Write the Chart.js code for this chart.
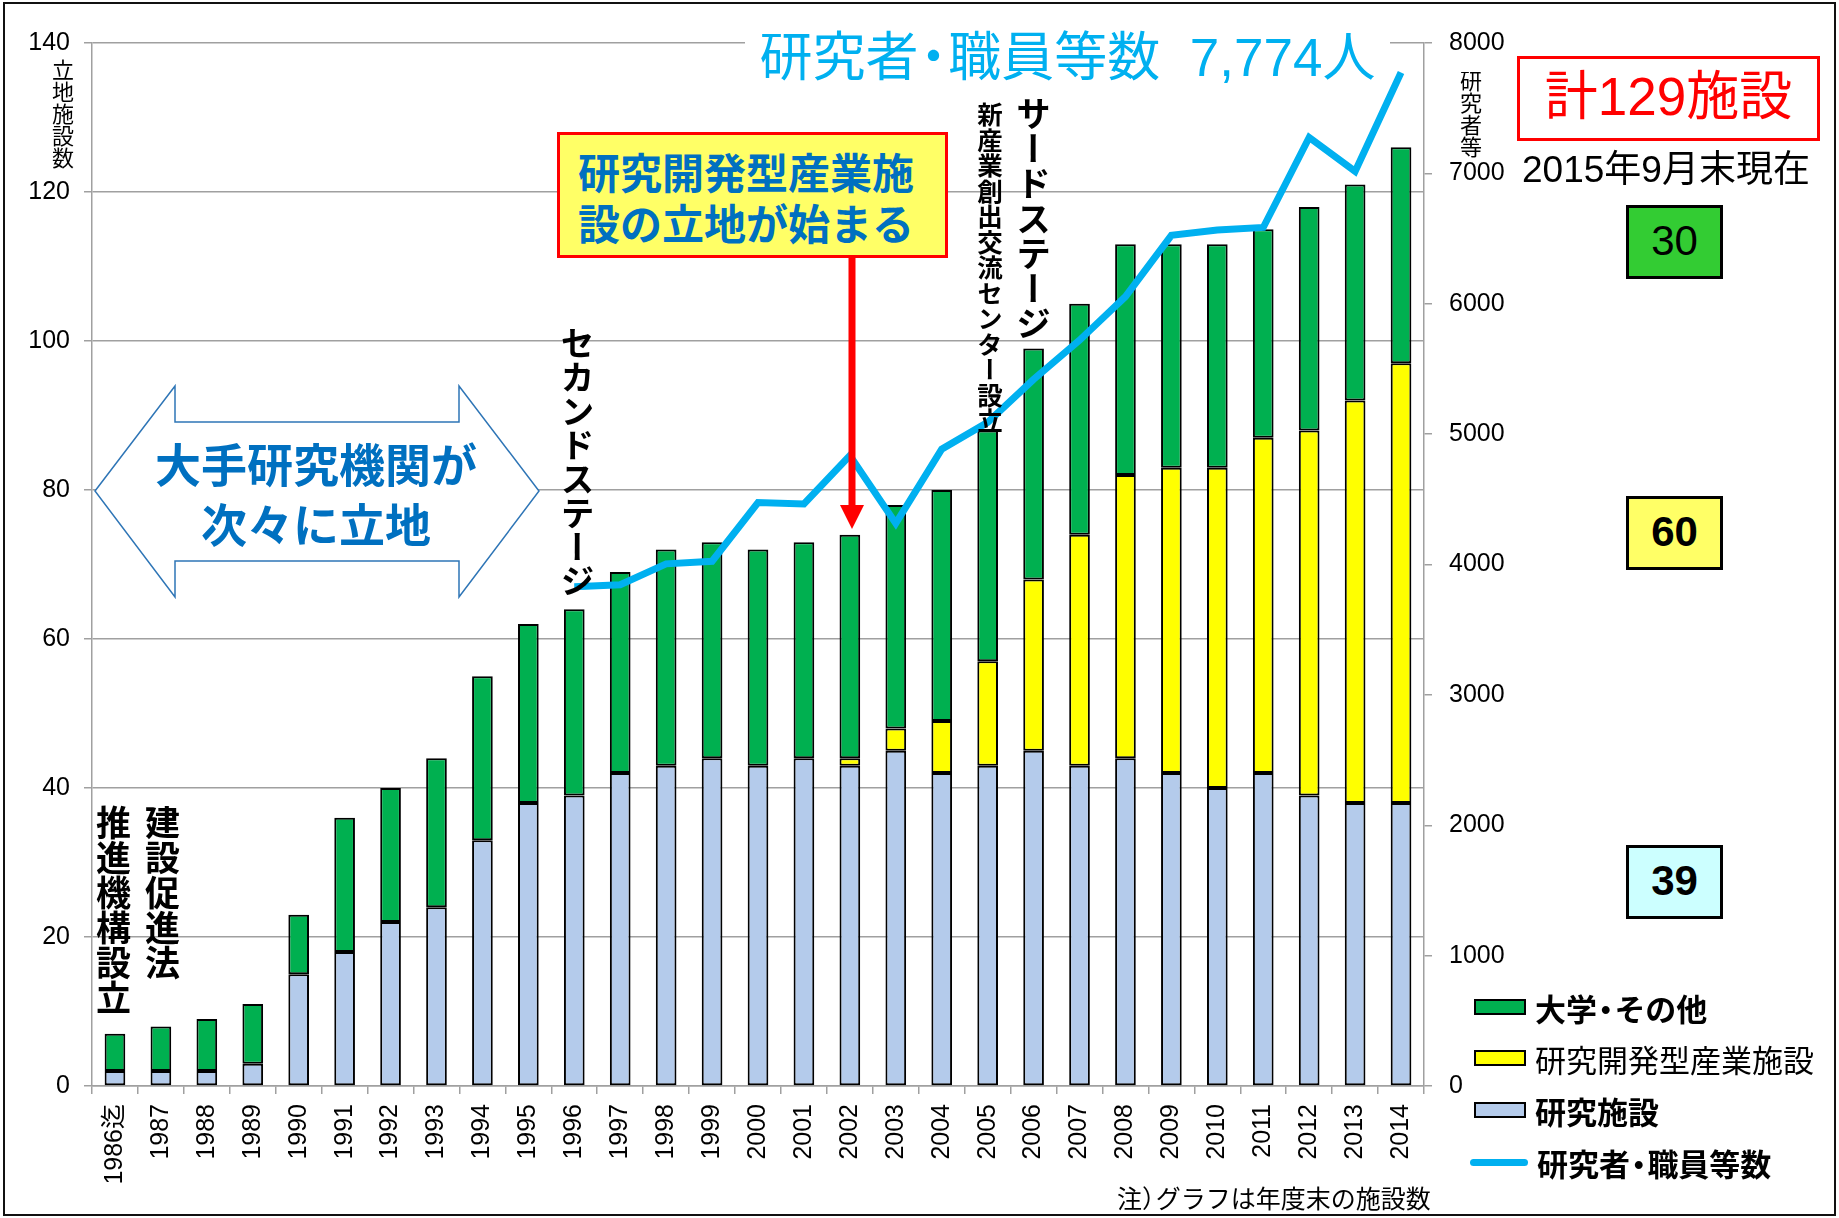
<!DOCTYPE html>
<html lang="ja">
<head>
<meta charset="utf-8">
<title>研究施設等の立地状況</title>
<script src="https://cdn.jsdelivr.net/npm/chart.js@4.4.1/dist/chart.umd.min.js"></script>
<style>
    html, body { margin: 0; padding: 0; background: #fff; overflow: hidden; }
    #wrap { position: relative; width: 1839px; height: 1218px; }
    #chart { position: absolute; left: 0; top: 0; }
    .note { position: absolute; font-family: "Liberation Sans", "Noto Sans CJK JP", sans-serif; color: #000; white-space: nowrap; z-index: 3; }
    .vert { writing-mode: vertical-rl; line-height: 1; font-family: "Noto Sans CJK JP", sans-serif; }
    .box { box-sizing: border-box; border: 3.5px solid #000; text-align: center; }
    .dot { margin: 0 -0.22em; }
    .paren { margin-right: -0.45em; }
    #arrows { position: absolute; left: 0; top: 0; z-index: 2; }
    #frame { position: absolute; left: 3px; top: 2px; width: 1829px; height: 1210px; border: 2px solid #111; z-index: 4; pointer-events: none; }
    .legend-row { position: absolute; left: 1470px; height: 40px; display: flex; align-items: center; z-index: 3; }
    .legend-patch { width: 52px; height: 16px; box-sizing: border-box; border: 2px solid #000; margin-left: 4px; }
    .legend-line { width: 58px; height: 7px; border-radius: 4px; }
    .legend-text { font-family: "Noto Sans CJK JP", sans-serif; font-size: 31px; margin-left: 9px; color: #000; }
</style>
</head>
<body>
<div id="wrap">
    <canvas id="chart" width="1839" height="1218"></canvas>

    <svg id="arrows" width="1839" height="1218">
        <!-- double arrow -->
        <polygon points="95,491 175,386 175,422 459,422 459,386 539,491 459,597 459,561 175,561 175,597"
                 fill="#fff" stroke="#2E75B6" stroke-width="1.5"/>
        <!-- red arrow from callout -->
        <line x1="852" y1="256" x2="852" y2="507" stroke="#FF0000" stroke-width="7"/>
        <polygon points="840,505 864,505 852,529" fill="#FF0000"/>
    </svg>

    <!-- title over the top gridline -->
    <div class="note" style="left:745px; top:28px; width:645px; height:60px; line-height:60px; background:#fff; text-align:center; font-size:53px; color:#00B0F0;">研究者<span class="dot">・</span>職員等数&nbsp;&nbsp;7,774人</div>

    <div class="note box" style="left:1517px; top:56px; width:303px; height:85px; line-height:76px; border-color:#FF0000; font-size:53px; color:#FF0000;">計129施設</div>
    <div class="note" style="left:1516px; top:148px; width:300px; text-align:center; font-size:37px; line-height:44px;">2015年9月末現在</div>

    <div class="note box" style="left:1626px; top:205px; width:97px; height:74px; line-height:66px; background:#33CC33; font-size:42px;">30</div>
    <div class="note box" style="left:1626px; top:496px; width:97px; height:74px; line-height:66px; background:#FFFF66; font-size:42px; font-weight:bold;">60</div>
    <div class="note box" style="left:1626px; top:845px; width:97px; height:74px; line-height:66px; background:#CCFFFF; font-size:42px; font-weight:bold;">39</div>

    <!-- callout -->
    <div class="note box" style="left:557px; top:132px; width:391px; height:126px; border-color:#FF0000; background:#FFFF66; text-align:left; padding:10px 0 0 18px; font-family:'Noto Sans CJK JP', sans-serif; font-size:42px; line-height:51px; font-weight:bold; color:#0070C0;">研究開発型産業施<br>設の立地が始まる</div>

    <div class="note" style="left:116px; top:432px; width:400px; text-align:center; font-family:'Noto Sans CJK JP', sans-serif; font-size:46px; line-height:60px; font-weight:bold; color:#0070C0;">大手研究機関が<br>次々に立地</div>

    <!-- vertical notes -->
    <div class="note vert" style="left:96px; top:805px; font-size:35px; font-weight:bold;">推進機構設立</div>
    <div class="note vert" style="left:145px; top:805px; font-size:35px; font-weight:bold;">建設促進法</div>
    <div class="note vert" style="left:560px; top:326px; font-size:34px; font-weight:bold;">セカンドステージ</div>
    <div class="note vert" style="left:1016px; top:96px; font-size:35px; font-weight:bold;">サードステージ</div>
    <div class="note vert" style="left:977px; top:102px; font-size:25.5px; font-weight:bold;">新産業創出交流センター設立</div>

    <!-- axis titles -->
    <div class="note vert" style="left:52px; top:59px; font-size:22px;">立地施設数</div>
    <div class="note vert" style="left:1460px; top:70px; font-size:22px;">研究者等</div>

    <div class="note" style="left:1117px; top:1183px; font-family:'Noto Sans CJK JP', sans-serif; font-size:25px; line-height:28px;">注<span class="paren">）</span>グラフは年度末の施設数</div>

    <div id="legend"></div>
    <div id="frame"></div>
</div>

<script>
// Categories (fiscal year end)
const years = ['1986迄', '1987', '1988', '1989', '1990', '1991', '1992', '1993', '1994', '1995',
    '1996', '1997', '1998', '1999', '2000', '2001', '2002', '2003', '2004', '2005',
    '2006', '2007', '2008', '2009', '2010', '2011', '2012', '2013', '2014'];

// 研究施設
const researchFacilities = [2, 2, 2, 3, 15, 18, 22, 24, 33, 38,
    39, 42, 43, 44, 43, 44, 43, 45, 42, 43,
    45, 43, 44, 42, 40, 42, 39, 38, 38];

// 研究開発型産業施設
const industryFacilities = [null, null, null, null, null, null, null, null, null, null,
    null, null, null, null, null, null, 1, 3, 7, 14,
    23, 31, 38, 41, 43, 45, 49, 54, 59];

// 大学・その他
const universityOther = [5, 6, 7, 8, 8, 18, 18, 20, 22, 24,
    25, 27, 29, 29, 29, 29, 30, 30, 31, 31,
    31, 31, 31, 30, 30, 28, 30, 29, 29];

// 研究者・職員等数
const researchers = [null, null, null, null, null, null, null, null, null, null,
    3830, 3845, 4005, 4025, 4475, 4465, 4835, 4315, 4885, 5090,
    5420, 5720, 6055, 6525, 6565, 6585, 7275, 7015, 7774];

// Axis ranges
const facilityTicks = { min: 0, max: 140, step: 20 };
const researcherTicks = { min: 0, max: 8000, step: 1000 };

const GRID = '#A0A0A0';
const TICK_FONT = '"Liberation Sans", "Noto Sans CJK JP", sans-serif';

function barSet(label, data, color) {
    return {
        label: label,
        data: data,
        backgroundColor: color,
        borderColor: '#000',
        borderWidth: 2,
        borderSkipped: false,
        yAxisID: 'y',
        order: 1,
        barPercentage: 0.45,
        categoryPercentage: 1
    };
}

const datasets = [
    barSet('研究施設', researchFacilities, '#B4CBEB'),
    barSet('研究開発型産業施設', industryFacilities, '#FFFF00'),
    barSet('大学・その他', universityOther, '#00B050'),
    {
        type: 'line',
        label: '研究者・職員等数',
        data: researchers,
        borderColor: '#00B0F0',
        borderWidth: 7,
        pointRadius: 0,
        tension: 0,
        borderJoinStyle: 'miter',
        yAxisID: 'y2',
        order: 0
    }
];

const ctx = document.getElementById('chart').getContext('2d');
const chart = new Chart(ctx, {
    type: 'bar',
    data: { labels: years, datasets: datasets },
    options: {
        responsive: false,
        devicePixelRatio: 1,
        animation: false,
        layout: { padding: { top: 43, right: 0, bottom: 0, left: 0 } },
        plugins: {
            legend: { display: false },
            tooltip: { enabled: false }
        },
        scales: {
            x: {
                stacked: true,
                grid: { offset: true, drawOnChartArea: false, color: GRID, lineWidth: 1.5, tickLength: 8 },
                border: { color: GRID, width: 1.5 },
                ticks: {
                    minRotation: 90,
                    maxRotation: 90,
                    autoSkip: false,
                    padding: 10,
                    color: '#000',
                    font: { family: TICK_FONT, size: 25 }
                },
                afterFit: function(scale) { scale.height = 132; }
            },
            y: {
                stacked: true,
                min: facilityTicks.min,
                max: facilityTicks.max,
                grid: { color: GRID, lineWidth: 1.5, tickLength: 8 },
                border: { color: GRID, width: 1.5 },
                ticks: {
                    stepSize: facilityTicks.step,
                    padding: 14,
                    color: '#000',
                    font: { family: TICK_FONT, size: 25 }
                },
                afterFit: function(scale) { scale.width = 92; }
            },
            y2: {
                position: 'right',
                min: researcherTicks.min,
                max: researcherTicks.max,
                grid: { drawOnChartArea: false, color: GRID, lineWidth: 1.5, tickLength: 8 },
                border: { color: GRID, width: 1.5 },
                ticks: {
                    stepSize: researcherTicks.step,
                    padding: 17,
                    color: '#000',
                    font: { family: TICK_FONT, size: 25 },
                    callback: value => String(value)
                },
                afterFit: function(scale) { scale.width = 415; }
            }
        }
    }
});

// Custom legend, in the order of the reference
const legendOrder = [
    { idx: 2, top: 987, bold: true },
    { idx: 1, top: 1038, bold: false },
    { idx: 0, top: 1090, bold: true },
    { idx: 3, top: 1142, bold: true }
];
const legendBox = document.getElementById('legend');
legendOrder.forEach(item => {
    const ds = chart.data.datasets[item.idx];
    const row = document.createElement('div');
    row.className = 'legend-row';
    row.style.top = item.top + 'px';
    const mark = document.createElement('div');
    if (ds.type === 'line') {
        mark.className = 'legend-line';
        mark.style.background = ds.borderColor;
    } else {
        mark.className = 'legend-patch';
        mark.style.background = ds.backgroundColor;
    }
    const text = document.createElement('span');
    text.className = 'legend-text';
    if (item.bold) text.style.fontWeight = 'bold';
    // narrow middle dot, as in the reference
    ds.label.split('・').forEach((part, i) => {
        if (i > 0) {
            const dot = document.createElement('span');
            dot.className = 'dot';
            dot.textContent = '・';
            text.appendChild(dot);
        }
        text.appendChild(document.createTextNode(part));
    });
    row.appendChild(mark);
    row.appendChild(text);
    legendBox.appendChild(row);
});
</script>
</body>
</html>
